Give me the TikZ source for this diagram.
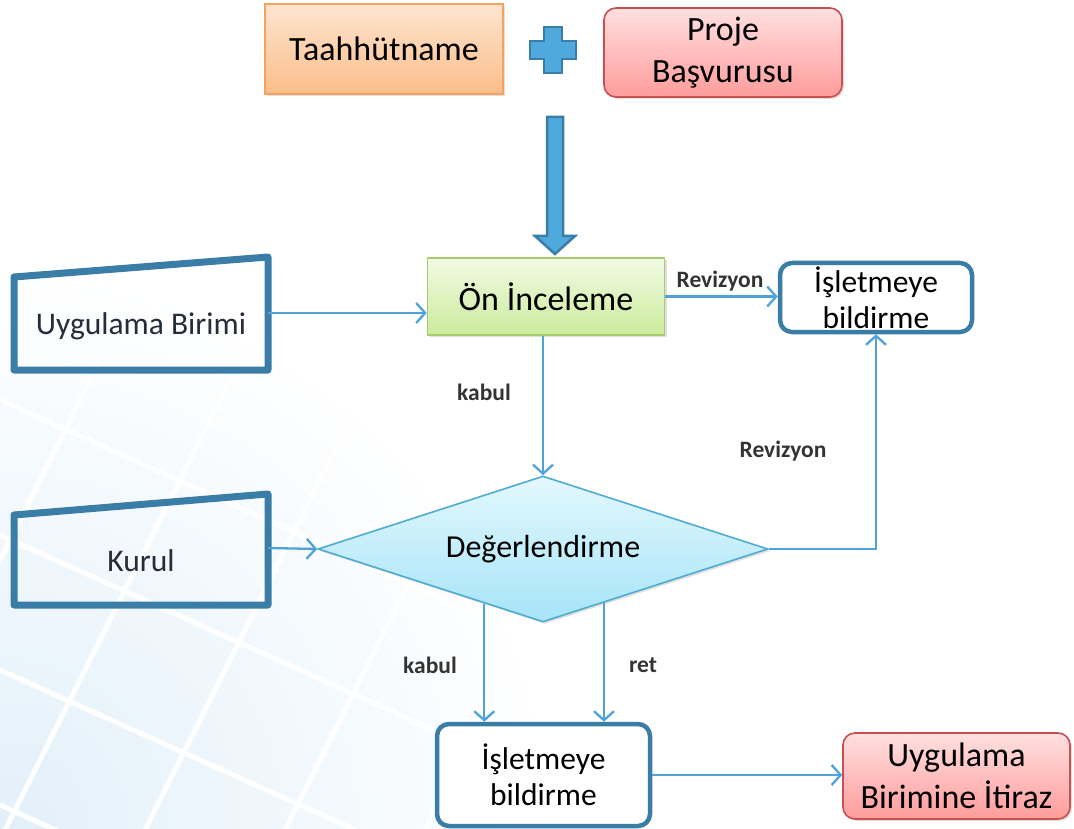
\documentclass[tikz,border=0pt]{standalone}
\usepackage{fontspec}
\setmainfont{Carlito}
\usetikzlibrary{shapes.geometric,arrows.meta,calc,shadows}

\definecolor{linkblue}{RGB}{79,163,218}
\definecolor{frameblue}{RGB}{58,125,166}
\definecolor{plusblue}{RGB}{79,169,220}
\definecolor{orangeline}{RGB}{246,161,92}
\definecolor{orangetop}{RGB}{253,229,208}
\definecolor{orangebot}{RGB}{251,190,138}
\definecolor{pinkline}{RGB}{201,80,79}
\definecolor{pinktop}{RGB}{255,224,224}
\definecolor{pinkbot}{RGB}{255,156,156}
\definecolor{greenline}{RGB}{166,204,107}
\definecolor{greentop}{RGB}{242,250,228}
\definecolor{greenbot}{RGB}{203,235,156}
\definecolor{diamline}{RGB}{79,172,208}
\definecolor{diamtop}{RGB}{227,248,253}
\definecolor{diambot}{RGB}{166,228,248}
\definecolor{inktext}{RGB}{38,44,58}
\definecolor{tilebg}{RGB}{226,240,250}

\begin{document}
\begin{tikzpicture}[x=1pt,y=-1pt,
    bigtext/.style={font=\fontsize{34}{42}\selectfont, text=black, align=center},
    flowbox/.style={bigtext, inner sep=0pt, line width=1.6pt,
        drop shadow={shadow xshift=2pt, shadow yshift=-2pt, opacity=0.25}},
    tanbox/.style={flowbox, draw=orangeline, top color=orangetop, bottom color=orangebot},
    redbox/.style={flowbox, draw=pinkline, top color=pinktop, bottom color=pinkbot, rounded corners=12pt},
    limebox/.style={flowbox, draw=greenline, top color=greentop, bottom color=greenbot},
    notebox/.style={bigtext, font=\fontsize{31.5}{36}\selectfont, inner sep=0pt, draw=frameblue,
        fill=white, line width=4.5pt, rounded corners=12pt},
    inputframe/.style={draw=frameblue, line width=7pt, line join=round},
    inputtext/.style={bigtext, font=\fontsize{31.5}{36}\selectfont, text=inktext},
    link/.style={draw=linkblue, line width=2.3pt, -{Straight Barb[length=9pt, width=20pt, line width=2.3pt]}},
    tag/.style={font=\fontsize{23.5}{26}\selectfont\bfseries, text=black!80}
]
    \useasboundingbox (0,0) rectangle (1074,829);

    % Faint tiled background in the lower left corner
    \begin{scope}
        \clip (0,829) circle (560pt);
        \shade[inner color=tilebg, outer color=white] (0,829) circle (560pt);
        \foreach \c in {400,535,670,805,940}
            \draw[white, line width=5pt] (0,\c) -- (900,\c+405);
        \foreach \d in {100,240,380,520,660,800}
            \draw[white, line width=5pt] (\d,360) -- (\d-280,920);
    \end{scope}

    % Top row: two documents joined by a plus
    \node[tanbox, minimum width=238pt, minimum height=90pt] (taah) at (384,49) {Taahhütname};
    \node[redbox, minimum width=238pt, minimum height=89pt] (proje) at (723,52.5) {Proje\\Başvurusu};
    \draw[fill=plusblue, draw=frameblue, line width=2.5pt]
        (544,27) -- (562,27) -- (562,41) -- (576,41) -- (576,59) -- (562,59)
        -- (562,73) -- (544,73) -- (544,59) -- (530,59) -- (530,41) -- (544,41) -- cycle;

    % Thick arrow down to the first check
    \draw[fill=plusblue, draw=frameblue, line width=2.5pt]
        (547,117) -- (563,117) -- (563,236) -- (575,236) -- (555,254)
        -- (535,236) -- (547,236) -- cycle;

    % Main flow
    \node[limebox, minimum width=237pt, minimum height=77pt] (oi) at (546,296.5) {Ön İnceleme};
    \node[notebox, minimum width=192pt, minimum height=69pt] (ib1) at (876,297.5) {İşletmeye\\bildirme};
    \node[diamond, bigtext, font=\fontsize{32}{36}\selectfont, draw=diamline, line width=1.6pt,
        top color=diamtop, bottom color=diambot,
        inner sep=0pt, aspect=3.08, minimum width=450pt, minimum height=146pt,
        drop shadow={shadow xshift=2pt, shadow yshift=-2pt, opacity=0.25}] (dg) at (543,549) {Değerlendirme};
    \node[notebox, minimum width=213pt, minimum height=102pt] (ib2) at (543.5,775) {İşletmeye\\bildirme};
    \node[redbox, minimum width=227pt, minimum height=86pt] (itiraz) at (956.5,776) {Uygulama\\Birimine İtiraz};

    % Manual inputs on the left
    \draw[inputframe] (14,277) -- (268,257) -- (268,370) -- (14,370) -- cycle;
    \node[inputtext] (ub) at (141,326) {Uygulama Birimi};
    \coordinate (ubR) at (268,313);
    \draw[inputframe] (14,515) -- (268,494) -- (268,605) -- (14,605) -- cycle;
    \node[inputtext] (kurul) at (141,561) {Kurul};
    \coordinate (kurulR) at (268,548);

    % Connectors
    \draw[link] (ubR) -- (ubR -| oi.west);
    \draw[link] (oi.east) -- (oi.east -| ib1.west);
    \draw[link] (oi.south -| dg.north) -- (dg.north);
    \draw[link] (kurulR) -- (dg.west);
    \draw[link] (dg.east) -| (ib1.south);
    \coordinate (dgL) at ($(dg.south)!0.26!(dg.west)$);
    \coordinate (dgR) at ($(dg.south)!0.27!(dg.east)$);
    \draw[link] (dgL) -- (dgL |- ib2.north);
    \draw[link] (dgR) -- (dgR |- ib2.north);
    \draw[link] (ib2.east) -- (ib2.east -| itiraz.west);

    % Connector labels
    \node[tag] (t1) at (720,281) {Revizyon};
    \node[tag] (t2) at (484,392) {kabul};
    \node[tag] (t3) at (783,451) {Revizyon};
    \node[tag] (t4) at (430,665) {kabul};
    \node[tag] (t5) at (643,665) {ret};

\end{tikzpicture}
\end{document}
